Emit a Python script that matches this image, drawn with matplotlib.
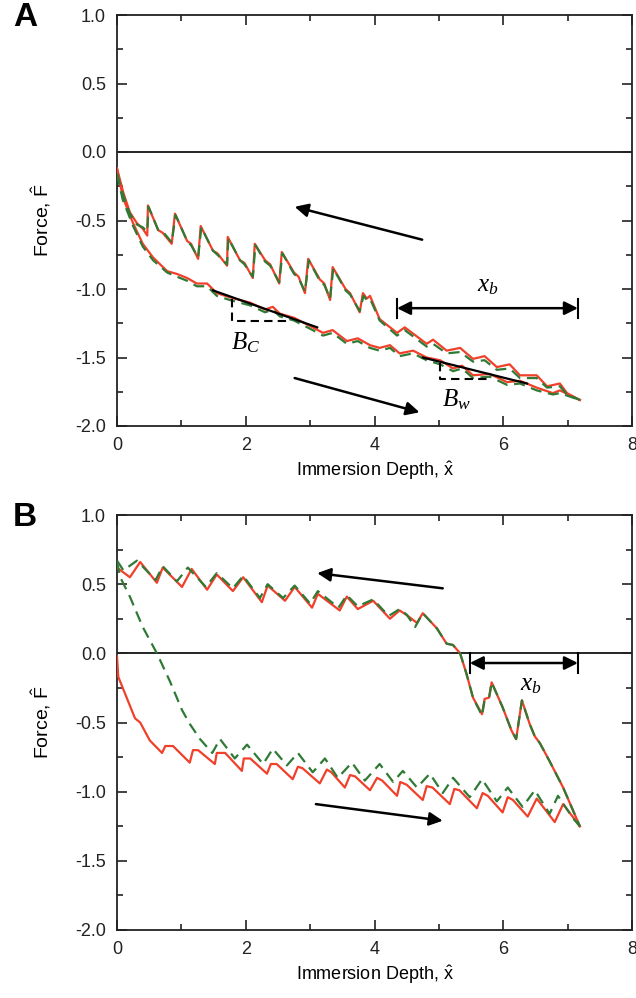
import matplotlib
matplotlib.use("Agg")
import matplotlib.pyplot as plt
from matplotlib.ticker import MultipleLocator

plt.rcParams['font.family'] = ['Liberation Sans', 'DejaVu Sans']
plt.rcParams['mathtext.fontset'] = 'custom'
plt.rcParams['mathtext.rm'] = 'Liberation Sans'
plt.rcParams['mathtext.it'] = 'Liberation Serif:italic'
plt.rcParams['mathtext.cal'] = 'Liberation Serif:italic'

RED = '#f0402a'
GREEN = '#2f7a34'

# ---- panel A ----
a_red_load_x = [0.00, 0.09, 0.25, 0.40, 0.56, 0.78, 0.93, 1.09, 1.24, 1.40, 1.55, 1.75, 2.07, 2.30, 2.42,
                2.53, 2.75, 3.04, 3.20, 3.35, 3.57, 3.74, 3.93, 4.08, 4.24, 4.39, 4.60, 4.81, 5.02, 5.22,
                5.36, 5.53, 5.79, 6.06, 6.26, 6.52, 6.77, 6.88, 7.19]
a_red_load_y = [-0.12, -0.33, -0.52, -0.67, -0.77, -0.87, -0.89, -0.92, -0.96, -0.96, -1.03, -1.06, -1.10,
                -1.15, -1.13, -1.18, -1.21, -1.28, -1.32, -1.30, -1.38, -1.36, -1.41, -1.43, -1.41, -1.47,
                -1.45, -1.50, -1.52, -1.58, -1.56, -1.63, -1.62, -1.68, -1.67, -1.72, -1.76, -1.74, -1.81]
a_red_ret_x = [0.00, 0.10, 0.20, 0.31, 0.40, 0.47, 0.48, 0.64, 0.71, 0.85, 0.90, 1.09, 1.15, 1.26, 1.30,
               1.49, 1.56, 1.71, 1.72, 1.91, 1.98, 2.11, 2.14, 2.30, 2.38, 2.52, 2.56, 2.75, 2.82, 2.92,
               2.97, 3.15, 3.22, 3.31, 3.35, 3.55, 3.62, 3.77, 3.82, 3.88, 3.93, 4.08, 4.35, 4.47, 4.81,
               4.91, 5.12, 5.33, 5.53, 5.71, 5.90, 6.10, 6.26, 6.52, 6.68, 6.88, 6.99, 7.19]
a_red_ret_y = [-0.12, -0.30, -0.44, -0.52, -0.56, -0.61, -0.39, -0.57, -0.59, -0.67, -0.45, -0.65, -0.67,
               -0.78, -0.54, -0.72, -0.74, -0.83, -0.62, -0.79, -0.81, -0.92, -0.67, -0.79, -0.82, -0.96,
               -0.73, -0.88, -0.91, -1.03, -0.78, -0.93, -0.96, -1.08, -0.84, -1.00, -1.03, -1.17, -1.03,
               -1.07, -1.05, -1.22, -1.32, -1.28, -1.40, -1.37, -1.45, -1.43, -1.51, -1.49, -1.57, -1.55,
               -1.63, -1.63, -1.71, -1.69, -1.76, -1.81]

a_green_load_x = [0.00, 0.09, 0.25, 0.40, 0.56, 0.78, 0.93, 1.09, 1.24, 1.40, 1.55, 1.75, 2.07, 2.30, 2.42,
                  2.53, 2.75, 3.04, 3.20, 3.35, 3.57, 3.74, 3.93, 4.08, 4.24, 4.39, 4.60, 4.81, 5.02, 5.22,
                  5.36, 5.53, 5.79, 6.06, 6.26, 6.52, 6.77, 6.88, 7.19]
a_green_load_y = [-0.16, -0.35, -0.54, -0.69, -0.79, -0.88, -0.91, -0.94, -0.98, -0.98, -1.05, -1.08, -1.12,
                  -1.17, -1.15, -1.20, -1.23, -1.30, -1.34, -1.32, -1.40, -1.38, -1.43, -1.45, -1.43, -1.49,
                  -1.47, -1.52, -1.55, -1.60, -1.58, -1.65, -1.64, -1.70, -1.69, -1.74, -1.77, -1.76, -1.81]
a_green_ret_x = [0.00, 0.10, 0.20, 0.31, 0.40, 0.47, 0.49, 0.64, 0.71, 0.85, 0.91, 1.09, 1.15, 1.26, 1.31,
                 1.49, 1.56, 1.71, 1.73, 1.91, 1.98, 2.11, 2.15, 2.30, 2.38, 2.52, 2.57, 2.75, 2.82, 2.92,
                 2.98, 3.15, 3.22, 3.31, 3.36, 3.55, 3.62, 3.77, 3.83, 3.88, 3.93, 4.08, 4.35, 4.47, 4.81,
                 4.91, 5.12, 5.33, 5.53, 5.71, 5.90, 6.10, 6.26, 6.52, 6.68, 6.88, 6.99, 7.19]
a_green_ret_y = [-0.16, -0.32, -0.45, -0.53, -0.55, -0.58, -0.40, -0.57, -0.58, -0.66, -0.46, -0.65, -0.68,
                 -0.77, -0.55, -0.72, -0.75, -0.82, -0.63, -0.79, -0.82, -0.91, -0.68, -0.80, -0.83, -0.95,
                 -0.74, -0.89, -0.92, -1.02, -0.79, -0.94, -0.97, -1.07, -0.85, -1.01, -1.04, -1.16, -1.05,
                 -1.08, -1.07, -1.23, -1.34, -1.30, -1.42, -1.40, -1.47, -1.46, -1.53, -1.52, -1.59, -1.58,
                 -1.65, -1.65, -1.72, -1.71, -1.77, -1.81]

# ---- panel B ----
b_red_load_x = [0.00, 0.02, 0.15, 0.28, 0.36, 0.51, 0.70, 0.75, 0.87, 1.13, 1.18, 1.26, 1.52, 1.55, 1.68,
                1.94, 1.97, 2.07, 2.33, 2.39, 2.48, 2.73, 2.81, 2.88, 3.15, 3.26, 3.33, 3.54, 3.62, 3.70,
                3.93, 4.04, 4.12, 4.35, 4.40, 4.50, 4.75, 4.81, 4.90, 5.17, 5.24, 5.32, 5.59, 5.68, 5.76,
                5.99, 6.07, 6.15, 6.38, 6.52, 6.80, 6.93, 7.19]
b_red_load_y = [-0.02, -0.17, -0.32, -0.47, -0.50, -0.63, -0.72, -0.67, -0.67, -0.79, -0.70, -0.70, -0.80,
                -0.72, -0.72, -0.85, -0.76, -0.76, -0.87, -0.80, -0.80, -0.91, -0.82, -0.83, -0.94, -0.84,
                -0.86, -0.97, -0.88, -0.89, -0.99, -0.90, -0.92, -1.03, -0.93, -0.95, -1.06, -0.96, -0.97,
                -1.09, -0.98, -0.99, -1.12, -1.01, -1.03, -1.15, -1.04, -1.06, -1.18, -1.05, -1.22, -1.09,
                -1.25]
b_red_ret_x = [0.00, 0.20, 0.36, 0.62, 0.71, 1.01, 1.16, 1.40, 1.55, 1.80, 1.96, 2.25, 2.34, 2.61, 2.76,
               3.03, 3.12, 3.46, 3.57, 3.74, 3.98, 4.24, 4.39, 4.52, 4.66, 4.75, 4.97, 5.12, 5.22, 5.33,
               5.43, 5.53, 5.67, 5.71, 5.78, 5.82, 5.99, 6.13, 6.20, 6.29, 6.41, 6.49, 6.57, 6.72, 6.93,
               7.19]
b_red_ret_y = [0.62, 0.55, 0.66, 0.51, 0.62, 0.48, 0.61, 0.46, 0.57, 0.45, 0.55, 0.37, 0.49, 0.38, 0.48,
               0.33, 0.43, 0.31, 0.41, 0.32, 0.38, 0.25, 0.31, 0.27, 0.22, 0.29, 0.18, 0.07, 0.06, 0.00,
               -0.15, -0.32, -0.44, -0.33, -0.32, -0.21, -0.39, -0.56, -0.62, -0.34, -0.51, -0.60, -0.65,
               -0.78, -0.97, -1.25]

b_green_load_x = [0.00, 0.05, 0.20, 0.40, 0.62, 0.82, 1.01, 1.13, 1.29, 1.48, 1.60, 1.83, 2.02, 2.27, 2.42,
                  2.64, 2.81, 3.04, 3.23, 3.43, 3.65, 3.85, 4.08, 4.29, 4.44, 4.66, 4.86, 5.06, 5.22, 5.48,
                  5.67, 5.90, 6.07, 6.30, 6.49, 6.72, 6.85, 7.08, 7.19]
b_green_load_y = [0.66, 0.55, 0.41, 0.19, 0.00, -0.20, -0.41, -0.51, -0.62, -0.72, -0.62, -0.76, -0.66,
                  -0.80, -0.69, -0.81, -0.72, -0.86, -0.76, -0.90, -0.79, -0.92, -0.80, -0.93, -0.85, -0.97,
                  -0.87, -1.01, -0.90, -1.04, -0.91, -1.07, -0.97, -1.11, -0.99, -1.16, -1.03, -1.19, -1.25]
b_green_ret_x = [0.00, 0.10, 0.31, 0.60, 0.71, 0.93, 1.10, 1.38, 1.55, 1.80, 1.96, 2.22, 2.34, 2.58, 2.76,
                 3.00, 3.12, 3.44, 3.57, 3.74, 3.98, 4.22, 4.39, 4.50, 4.63, 4.75, 4.97, 5.12, 5.22, 5.33,
                 5.43, 5.53, 5.67, 5.71, 5.78, 5.82, 5.99, 6.13, 6.20, 6.29, 6.41, 6.49, 6.57, 6.72, 6.93,
                 7.19]
b_green_ret_y = [0.67, 0.60, 0.67, 0.53, 0.63, 0.52, 0.62, 0.48, 0.58, 0.47, 0.56, 0.40, 0.50, 0.40, 0.49,
                 0.36, 0.45, 0.33, 0.42, 0.34, 0.39, 0.27, 0.32, 0.28, 0.19, 0.29, 0.18, 0.07, 0.06, 0.00,
                 -0.15, -0.32, -0.45, -0.34, -0.32, -0.21, -0.39, -0.56, -0.62, -0.34, -0.51, -0.60, -0.65,
                 -0.78, -0.97, -1.25]


def style_axes(ax):
    ax.set_xlim(0, 8)
    ax.set_ylim(-2.0, 1.0)
    ax.xaxis.set_major_locator(MultipleLocator(2))
    ax.xaxis.set_minor_locator(MultipleLocator(1))
    ax.yaxis.set_major_locator(MultipleLocator(0.5))
    ax.yaxis.set_minor_locator(MultipleLocator(0.25))
    ax.yaxis.set_major_formatter(plt.FormatStrFormatter('%.1f'))
    ax.tick_params(which='both', direction='in', top=True, right=True, width=1.2, labelsize=13,
                   colors='#222222')
    ax.tick_params(which='major', length=7, pad=8)
    ax.tick_params(which='minor', length=4)
    for s in ax.spines.values():
        s.set_linewidth(1.3)
        s.set_color('#222222')
    ax.axhline(0, color='k', lw=1.2, zorder=1)
    ax.set_xlabel('Immersion Depth, $\\hat{\\mathrm{x}}$', fontsize=13, labelpad=4)
    ax.set_ylabel('Force, $\\hat{\\mathrm{F}}$', fontsize=14, labelpad=16)


def arrow(ax, tail, head, style='-|>'):
    ax.annotate('', xy=head, xytext=tail,
                arrowprops=dict(arrowstyle=style, color='k', lw=1.8, mutation_scale=20,
                                shrinkA=0, shrinkB=0))


def span(ax, x0, x1, y, h):
    arrow(ax, (x0, y), (x1, y), '<|-|>')
    ax.plot([x0, x0], [y - h, y + h], color='k', lw=1.5)
    ax.plot([x1, x1], [y - h, y + h], color='k', lw=1.5)


fig = plt.figure(figsize=(6.36, 9.98), dpi=100)
W, H = 636, 998
axA = fig.add_axes([117 / W, 1 - 426 / H, 515 / W, 411 / H])
axB = fig.add_axes([117 / W, 1 - 930 / H, 515 / W, 415 / H])

for ax in (axA, axB):
    style_axes(ax)

axA.plot(a_red_load_x, a_red_load_y, color=RED, lw=1.6, zorder=3)
axA.plot(a_red_ret_x, a_red_ret_y, color=RED, lw=1.6, zorder=3)
axA.plot(a_green_load_x, a_green_load_y, color=GREEN, lw=1.6, dashes=(5, 3), zorder=4)
axA.plot(a_green_ret_x, a_green_ret_y, color=GREEN, lw=1.6, dashes=(5, 3), zorder=4)

# slope markers
axA.plot([1.49, 3.11], [-1.01, -1.28], color='k', lw=1.6, zorder=5)
axA.plot([1.79, 1.79, 2.69], [-1.07, -1.23, -1.23], color='k', lw=1.5, dashes=(4, 2.5), zorder=5)
axA.plot([4.75, 6.37], [-1.50, -1.69], color='k', lw=1.6, zorder=5)
axA.plot([5.02, 5.02, 5.79], [-1.54, -1.66, -1.66], color='k', lw=1.5, dashes=(4, 2.5), zorder=5)
axA.text(1.99, -1.39, '$B_C$', fontsize=18, ha='center', va='center')
axA.text(5.28, -1.81, '$B_w$', fontsize=18, ha='center', va='center')

arrow(axA, (4.74, -0.64), (2.76, -0.40))
arrow(axA, (2.76, -1.65), (4.70, -1.90))
span(axA, 4.35, 7.16, -1.14, 0.07)
axA.text(5.76, -0.97, '$x_b$', fontsize=18, ha='center', va='center')

axB.plot(b_red_load_x, b_red_load_y, color=RED, lw=1.6, zorder=3)
axB.plot(b_red_ret_x, b_red_ret_y, color=RED, lw=1.6, zorder=3)
axB.plot(b_green_load_x, b_green_load_y, color=GREEN, lw=1.6, dashes=(5, 3), zorder=4)
axB.plot(b_green_ret_x, b_green_ret_y, color=GREEN, lw=1.6, dashes=(5, 3), zorder=4)

arrow(axB, (5.06, 0.47), (3.11, 0.58))
arrow(axB, (3.09, -1.09), (5.06, -1.21))
span(axB, 5.48, 7.16, -0.07, 0.07)
axB.text(6.43, -0.22, '$x_b$', fontsize=18, ha='center', va='center')

fig.text(25 / W, 1 - 18 / H, 'A', fontsize=24, fontweight='bold', ha='center', va='center')
fig.text(25 / W, 1 - 518 / H, 'B', fontsize=24, fontweight='bold', ha='center', va='center')

fig.savefig('out.png', dpi=100)
